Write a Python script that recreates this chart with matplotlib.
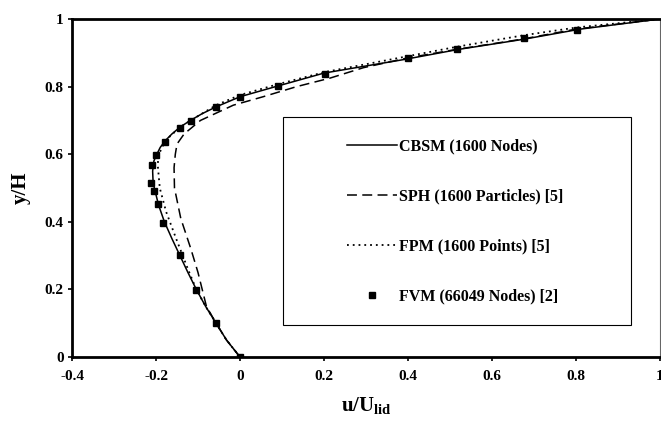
import numpy as np
import matplotlib
matplotlib.use('Agg')
import matplotlib.pyplot as plt
from matplotlib.patches import Rectangle

plt.rcParams['font.family'] = ['Liberation Serif', 'DejaVu Serif']
plt.rcParams['font.weight'] = 'bold'
plt.rcParams['mathtext.fontset'] = 'custom'
plt.rcParams['mathtext.rm'] = 'Liberation Serif:bold'
plt.rcParams['mathtext.bf'] = 'Liberation Serif:bold'

#-------------------------------------------------------------------------------
# u-velocity along the vertical centreline of the cavity

# CBSM, 1600 nodes
cbsm_y = [0, 0.05, 0.10, 0.15, 0.20, 0.25, 0.30, 0.35, 0.40, 0.45, 0.50, 0.52,
          0.55, 0.58, 0.60, 0.62, 0.64, 0.66, 0.68, 0.70, 0.72, 0.74, 0.77,
          0.80, 0.84, 0.88, 0.91, 0.94, 0.97, 1.0]
cbsm_u = [0, -0.032, -0.057, -0.082, -0.104, -0.124, -0.143, -0.162, -0.180,
          -0.194, -0.204, -0.207, -0.208, -0.205, -0.198, -0.190, -0.178,
          -0.162, -0.143, -0.118, -0.090, -0.057, 0.0, 0.085, 0.20, 0.39,
          0.52, 0.675, 0.81, 1.0]

# SPH, 1600 particles [5]
sph_y = [0, 0.05, 0.10, 0.15, 0.18, 0.25, 0.32, 0.41, 0.50, 0.56, 0.60, 0.63,
         0.66, 0.70, 0.745, 0.77, 0.80, 0.825, 0.856, 0.885, 0.91, 0.94, 0.97,
         1.0]
sph_u = [0, -0.032, -0.057, -0.080, -0.086, -0.100, -0.117, -0.141, -0.156,
         -0.157, -0.154, -0.150, -0.133, -0.094, -0.016, 0.055, 0.135, 0.214,
         0.294, 0.40, 0.515, 0.67, 0.80, 1.0]

# FPM, 1600 points [5]
fpm_y = [0, 0.05, 0.10, 0.15, 0.20, 0.26, 0.35, 0.43, 0.50, 0.57, 0.60, 0.64,
         0.68, 0.70, 0.745, 0.775, 0.807, 0.843, 0.89, 0.918, 0.952, 0.975, 1.0]
fpm_u = [0, -0.032, -0.057, -0.082, -0.104, -0.124, -0.152, -0.176, -0.191,
         -0.196, -0.193, -0.178, -0.143, -0.117, -0.057, 0.0, 0.09, 0.202,
         0.40, 0.517, 0.676, 0.802, 1.0]

# FVM reference, 66049 nodes [2]
fvm_y = [0, 0.10, 0.198, 0.302, 0.396, 0.453, 0.491, 0.515, 0.568, 0.598,
         0.636, 0.678, 0.698, 0.740, 0.769, 0.802, 0.837, 0.885, 0.911, 0.944,
         0.967]
fvm_u = [0, -0.057, -0.105, -0.143, -0.183, -0.195, -0.205, -0.212, -0.210,
         -0.200, -0.179, -0.143, -0.117, -0.057, 0.0, 0.090, 0.202, 0.400,
         0.517, 0.676, 0.802]

#-------------------------------------------------------------------------------

fig = plt.figure(figsize=(6.61, 4.23), dpi=100)
ax = fig.add_axes([72/661, 66/423, 588/661, 338/423])

ax.plot(cbsm_u, cbsm_y, '-', color='black', linewidth=1.1,
        label='CBSM (1600 Nodes)')
ax.plot(sph_u, sph_y, color='black', linewidth=1.1, linestyle=(0, (6.5, 3.5)),
        label='SPH (1600 Particles) [5]')
ax.plot(fpm_u, fpm_y, color='black', linewidth=1.3, linestyle=(0, (1.0, 2.2)),
        label='FPM (1600 Points) [5]')
ax.plot(fvm_u, fvm_y, 's', color='black', markersize=4, linestyle='none',
        label='FVM (66049 Nodes) [2]')

ax.set_xlim(-0.4, 1.0)
ax.set_ylim(0, 1.0)
ax.set_xticks(np.arange(-0.4, 1.01, 0.2))
ax.set_yticks(np.arange(0, 1.01, 0.2))
ax.set_xticklabels(['-0.4', '-0.2', '0', '0.2', '0.4', '0.6', '0.8', '1'])
ax.set_yticklabels(['0', '0.2', '0.4', '0.6', '0.8', '1'])
ax.tick_params(axis='both', direction='out', length=3, width=1.2,
               labelsize=11)
ax.tick_params(axis='x', pad=6)
ax.tick_params(axis='y', pad=3)

for side in ['left', 'bottom', 'top']:
    ax.spines[side].set_linewidth(2.0)
ax.spines['right'].set_linewidth(0.8)
ax.spines['right'].set_color('#666666')

ax.set_xlabel(r'u/U$_{\mathbf{lid}}$', fontsize=15, fontweight='bold',
              labelpad=9)
ax.set_ylabel('y/H', fontsize=15, fontweight='bold', labelpad=10)

# legend box with wide margins
ax.add_patch(Rectangle((0.359, 0.095), 0.592, 0.615, transform=ax.transAxes,
                       facecolor='white', edgecolor='black', linewidth=0.8,
                       zorder=3))
leg = ax.legend(frameon=False, loc='upper left',
                bbox_to_anchor=(0.4677, 0.647), borderpad=0, borderaxespad=0,
                handlelength=3.1, handletextpad=0.15, labelspacing=2.13,
                numpoints=1, fontsize=11.5)
leg.set_zorder(4)

fig.savefig('out.png', dpi=100)
